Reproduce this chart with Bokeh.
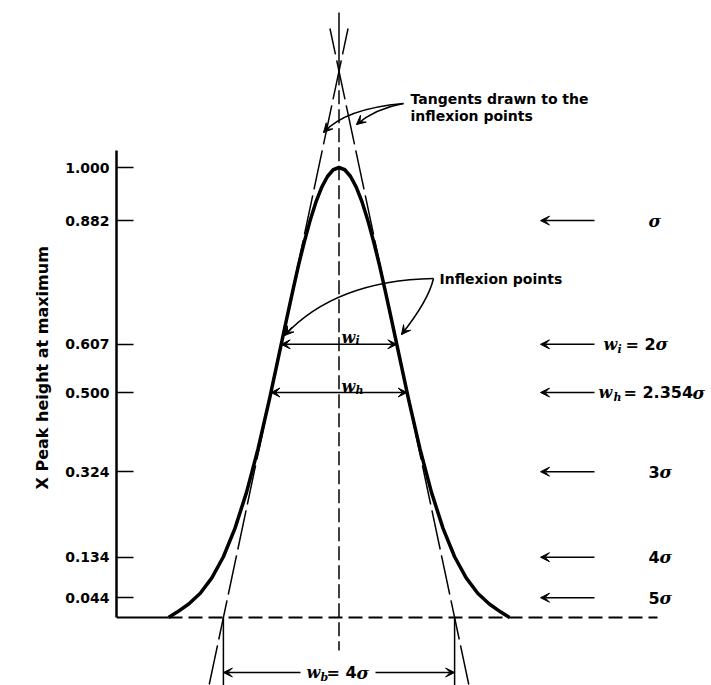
from bokeh.plotting import figure
from bokeh.models import Arrow, VeeHead, FixedTicker, Range1d, NumeralTickFormatter, Title
from bokeh.core.properties import value
from bokeh.embed import file_html
from bokeh.resources import INLINE

# ---------------- data ----------------
tick_values = [1.000, 0.882, 0.607, 0.500, 0.324, 0.134, 0.044]
tick_labels = ["1.000", "0.882", "0.607", "0.500", "0.324", "0.134", "0.044"]
y_title = "X Peak height at maximum"

# peak profile: x in units of sigma, height as fraction of maximum
curve_sigma = [-2.95, -2.8, -2.6, -2.4, -2.2, -2.0, -1.8, -1.6, -1.4, -1.2, -1.0,
               -0.9, -0.8, -0.7, -0.6, -0.5, -0.4, -0.3, -0.2, -0.1, 0.0,
               0.1, 0.2, 0.3, 0.4, 0.5, 0.6, 0.7, 0.8, 0.9, 1.0,
               1.2, 1.4, 1.6, 1.8, 2.0, 2.2, 2.4, 2.6, 2.8, 2.95]
curve_height = [0.000, 0.012, 0.030, 0.054, 0.088, 0.135, 0.198, 0.278, 0.375, 0.487, 0.607,
                0.667, 0.726, 0.783, 0.835, 0.882, 0.923, 0.956, 0.980, 0.995, 1.000,
                0.995, 0.980, 0.956, 0.923, 0.882, 0.835, 0.783, 0.726, 0.667, 0.607,
                0.487, 0.375, 0.278, 0.198, 0.135, 0.088, 0.054, 0.030, 0.012, 0.000]

# right-hand rows: height level and width (in sigma) at that level
row_heights = [0.882, 0.607, 0.500, 0.324, 0.134, 0.044]
row_widths = ["", "2", "2.354", "3", "4", "5"]
inflexion_height = 0.607
w_i = 2.0          # width at inflexion points (sigma)
w_h = 2.354        # width at half height (sigma)
w_b = 4.0          # width at base between tangents (sigma)

# ---------------- layout helpers (pixel -> data) ----------------
X0, SX, Y0, SY = 338.5, 57.8, 617.0, 450.0
def dx(px): return (px - X0) / SX
def dy(py): return (Y0 - py) / SY

p = figure(width=711, height=685, output_backend="svg", toolbar_location=None,
           x_range=Range1d(dx(116), dx(711)), y_range=Range1d(dy(685), dy(0)),
           x_axis_location=None, min_border_left=116, min_border_right=0,
           min_border_top=0, min_border_bottom=0)
p.grid.visible = False
p.outline_line_color = None
p.background_fill_color = "white"
p.border_fill_color = "white"

FONT = "DejaVu Sans"
MFONT = "DejaVu Serif"

ax = p.yaxis[0]
ax.ticker = FixedTicker(ticks=tick_values)
ax.formatter = NumeralTickFormatter(format="0.000")
ax.major_label_overrides = {v: s for v, s in zip(tick_values, tick_labels)}
ax.bounds = (0, dy(150))
ax.axis_line_width = 2.5
ax.axis_line_color = "black"
ax.major_tick_in = 17
ax.major_tick_out = 0
ax.major_tick_line_width = 1.5
ax.major_tick_line_color = "black"
ax.minor_tick_line_color = None
ax.major_label_text_font = FONT
ax.major_label_text_font_style = "bold"
ax.major_label_text_font_size = "14px"
ax.major_label_text_color = "black"
ax.major_label_standoff = 7

# axis title as a side title, starting near the foot of the axis
p.add_layout(Title(text=y_title, align="left", offset=196, standoff=21,
                   text_font=FONT, text_font_style="bold", text_font_size="16px",
                   text_color="black"), "left")

def txt(x, y, s, size="14px", font=FONT, style="bold", align="left", baseline="middle"):
    p.text(x=[x], y=[y], text=[s], text_font=value(font), text_font_style=style,
           text_font_size=size, text_align=align, text_baseline=baseline, text_color="black")

def arrow(x0, y0, x1, y1, both=False, lw=1.5, size=9):
    head = lambda: VeeHead(size=size, fill_color="black", line_color="black", line_width=1)
    p.add_layout(Arrow(x_start=x0, y_start=y0, x_end=x1, y_end=y1, line_width=lw,
                       line_color="black", end=head(), start=head() if both else None))

def curved_arrow(s, c, e):
    # s, c, e are pixel points (start, control, end)
    p.quadratic(x0=[dx(s[0])], y0=[dy(s[1])], x1=[dx(e[0])], y1=[dy(e[1])],
                cx=[dx(c[0])], cy=[dy(c[1])], line_width=1.5, line_color="black")
    bx = e[0] - 0.15 * (e[0] - c[0])
    by = e[1] - 0.15 * (e[1] - c[1])
    arrow(dx(bx), dy(by), dx(e[0]), dy(e[1]), lw=1.5)

# baseline: solid from axis to foot, dashed beyond
p.line([dx(116), curve_sigma[0]], [0, 0], line_width=2, line_color="black")
p.line([curve_sigma[0], dx(657)], [0, 0], line_width=2, line_color="black", line_dash="14 6")

# central vertical line
apex = 2 * inflexion_height
p.line([0, 0], [dy(12), apex], line_width=1.5, line_color="black")
p.line([0, 0], [apex, dy(650)], line_width=1.5, line_color="black", line_dash="14 5")

# tangents at the inflexion points (slope = height at inflexion per sigma)
slope = inflexion_height
h_top, h_bot = dy(28), dy(684)
p.line([h_bot / slope - 2, h_top / slope - 2], [h_bot, h_top],
       line_width=1.5, line_color="black", line_dash="40 6")
p.line([2 - h_bot / slope, 2 - h_top / slope], [h_bot, h_top],
       line_width=1.5, line_color="black", line_dash="40 6")

# the peak
p.line(curve_sigma, curve_height, line_width=3.5, line_color="black", line_join="round")

# widths inside the peak
arrow(-w_i / 2, inflexion_height, w_i / 2, inflexion_height, both=True)
arrow(-w_h / 2, 0.5, w_h / 2, 0.5, both=True)
txt(dx(341), dy(337), "w", size="16px", font=MFONT, style="bold italic", baseline="alphabetic")
txt(dx(355), dy(340), "i", size="11px", font=MFONT, style="bold italic", baseline="alphabetic")
txt(dx(341), dy(386), "w", size="16px", font=MFONT, style="bold italic", baseline="alphabetic")
txt(dx(355), dy(390), "h", size="11px", font=MFONT, style="bold italic", baseline="alphabetic")

# base width between tangents
hb = dy(672)
p.line([-w_b / 2, -w_b / 2], [0, dy(685)], line_width=1.5, line_color="black")
p.line([w_b / 2, w_b / 2], [0, dy(685)], line_width=1.5, line_color="black")
arrow(dx(300), hb, -w_b / 2, hb)
arrow(dx(375), hb, w_b / 2, hb)
txt(dx(306), hb, "w", size="16px", font=MFONT, style="bold italic")
txt(dx(320), hb - 5 / SY, "b", size="11px", font=MFONT, style="bold italic")
txt(dx(326), hb, "= 4", size="16px")
txt(dx(356), hb, "σ", size="17px", font=MFONT, style="bold italic")

# right-hand arrows and labels
for h, w in zip(row_heights, row_widths):
    arrow(dx(594), h, dx(540), h)
    if w == "":
        txt(dx(648), h, "σ", size="17px", font=MFONT, style="bold italic")
    elif w == "2":
        txt(dx(603), h, "w", size="16px", font=MFONT, style="bold italic")
        txt(dx(617), h - 5 / SY, "i", size="11px", font=MFONT, style="bold italic")
        txt(dx(625), h, "= " + w, size="16px")
        txt(dx(655), h, "σ", size="17px", font=MFONT, style="bold italic")
    elif w == "2.354":
        txt(dx(598), h, "w", size="16px", font=MFONT, style="bold italic")
        txt(dx(613), h - 5 / SY, "h", size="11px", font=MFONT, style="bold italic")
        txt(dx(623), h, "= " + w, size="16px")
        txt(dx(692), h, "σ", size="17px", font=MFONT, style="bold italic")
    else:
        txt(dx(648), h, w, size="16px")
        txt(dx(659), h, "σ", size="17px", font=MFONT, style="bold italic")

# annotations
txt(dx(439), dy(278), "Inflexion points", size="14px")
curved_arrow((433, 278), (335, 280), (284, 335))
curved_arrow((433, 278), (428, 300), (401, 334))

txt(dx(410), dy(98), "Tangents drawn to the", size="14px")
txt(dx(410), dy(115), "inflexion points", size="14px")
curved_arrow((403, 103), (345, 108), (323, 132))
curved_arrow((403, 103), (375, 108), (356, 124))

open("out.html", "w").write(file_html(p, INLINE))
